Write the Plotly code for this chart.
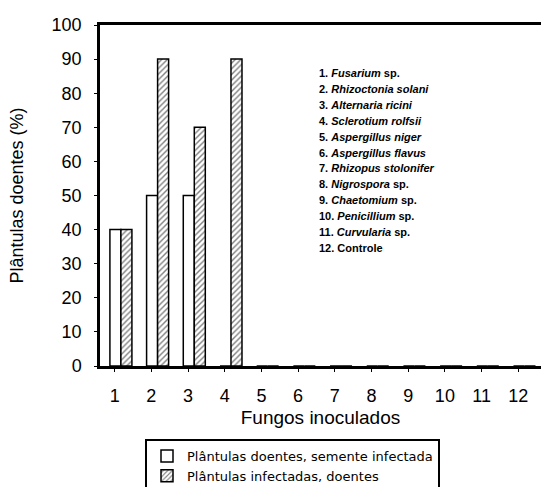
import plotly.graph_objects as go

categories = list(range(1, 13))
tick_labels = [str(c) for c in categories]
semente_infectada = [40, 50, 50, 0, 0, 0, 0, 0, 0, 0, 0, 0]
infectadas_doentes = [40, 90, 70, 90, 0, 0, 0, 0, 0, 0, 0, 0]
fungos = [
    ("1.", "Fusarium", " sp."),
    ("2.", "Rhizoctonia solani", ""),
    ("3.", "Alternaria ricini", ""),
    ("4.", "Sclerotium rolfsii", ""),
    ("5.", "Aspergillus niger", ""),
    ("6.", "Aspergillus flavus", ""),
    ("7.", "Rhizopus stolonifer", ""),
    ("8.", "Nigrospora", " sp."),
    ("9.", "Chaetomium", " sp."),
    ("10.", "Penicillium", " sp."),
    ("11.", "Curvularia", " sp."),
    ("12.", "", "Controle"),
]

W, H = 541, 487
L, R, T, B = 100, 0, 25, 121
FONT = "Liberation Sans, Arial, sans-serif"

fig = go.Figure()
fig.add_trace(go.Bar(
    x=categories, y=semente_infectada,
    name="Plântulas doentes, semente infectada",
    marker=dict(color="white", line=dict(color="black", width=1.5)),
))
fig.add_trace(go.Bar(
    x=categories, y=infectadas_doentes,
    name="Plântulas infectadas, doentes",
    marker=dict(color="white", line=dict(color="black", width=1.5),
                pattern=dict(shape="/", fgcolor="black", bgcolor="white",
                             size=4, solidity=0.35)),
))

plot_h = H - T - B
plot_w = W - L - R
y0 = 73
step = 15.9
for i, (num, ital, rest) in enumerate(fungos):
    txt = f"<b>{num} " + (f"<i>{ital}</i>" if ital else "") + f"{rest}</b>"
    ypix = y0 + i * step
    fig.add_annotation(
        xref="paper", yref="paper",
        x=(317 - L) / plot_w, y=1 - (ypix - T) / plot_h,
        xanchor="left", yanchor="middle", showarrow=False,
        text=txt, font=dict(family=FONT, size=11, color="black"),
    )

fig.update_layout(
    width=W, height=H,
    margin=dict(l=L, r=R, t=T, b=B, autoexpand=False),
    paper_bgcolor="white", plot_bgcolor="white",
    barmode="group", bargap=0.4, bargroupgap=0,
    font=dict(family=FONT, color="black"),
    showlegend=True,
    legend=dict(
        x=(145 - L) / plot_w, y=-(439 - (H - B)) / plot_h,
        xanchor="left", yanchor="top",
        bordercolor="black", borderwidth=2,
        font=dict(family="DejaVu Sans, sans-serif", size=13, color="black"),
        itemwidth=30, tracegroupgap=0,
    ),
    xaxis=dict(
        range=[0.43, 12.45],
        tickmode="array", tickvals=[c - 0.17 for c in categories],
        ticktext=tick_labels,
        tickfont=dict(size=18, color="black"),
        showline=True, linecolor="black", linewidth=2.5, mirror=True,
        showgrid=False, zeroline=False,
        ticks="outside", ticklen=3, tickcolor="black",
        ticklabelstandoff=9,
        title=dict(text="Fungos inoculados", font=dict(size=19, color="black"), standoff=6),
    ),
    yaxis=dict(
        range=[0, 100], dtick=10,
        tickfont=dict(size=18, color="black"),
        showline=True, linecolor="black", linewidth=2.5, mirror=True,
        showgrid=False, zeroline=False,
        ticks="outside", ticklen=3, tickcolor="black",
        ticklabelstandoff=9,
        title=dict(text="Plântulas doentes (%)", font=dict(size=18, color="black"), standoff=24),
    ),
)

fig.write_html(
    "out.html",
    config={"displayModeBar": False},
    post_script="document.body.style.margin='0';document.body.style.overflow='hidden';",
)
